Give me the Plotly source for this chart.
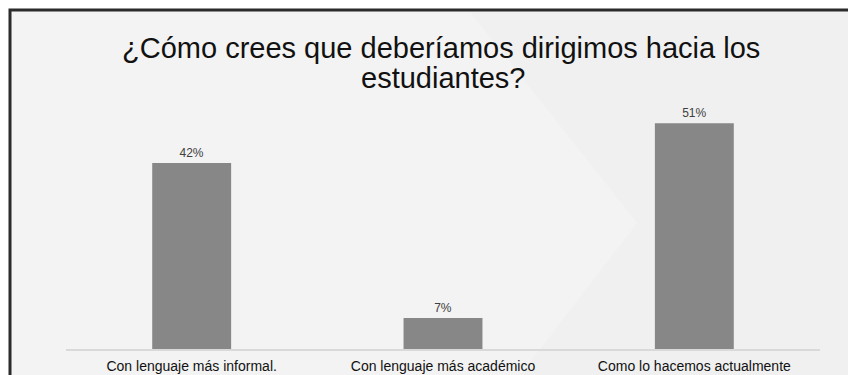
import plotly.graph_objects as go

categories = ["Con lenguaje más informal.", "Con lenguaje más académico", "Como lo hacemos actualmente"]
values = [42, 7, 51]
value_labels = ["42%", "7%", "51%"]
title_line1 = "¿Cómo crees que deberíamos dirigimos hacia los"
title_line2 = "estudiantes?"

W, H = 848, 375
ML, MR, MT, MB = 66, 28, 101, 26
PW, PH = W - ML - MR, H - MT - MB


def px(x):
    return (x - ML) / PW


def py(y):
    return (H - MB - y) / PH


fig = go.Figure()
fig.add_trace(go.Bar(
    x=categories, y=values, text=value_labels, textposition="outside",
    marker=dict(color="#878787", line=dict(width=0)),
    textfont=dict(family="Liberation Sans, Arial", size=12, color="#404040"),
    cliponaxis=False, hoverinfo="skip",
))

shapes = [
    # slide frame
    dict(type="rect", xref="paper", yref="paper", layer="below",
         x0=px(10), x1=px(870), y0=py(10), y1=py(390),
         fillcolor="#f0f0f0", line=dict(color="#2b2b2b", width=3)),
    # faint chevron in the background
    dict(type="path", xref="paper", yref="paper", layer="below",
         path=f"M {px(12)} {py(12)} L {px(470)} {py(12)} L {px(637)} {py(223)} L {px(520)} {py(375)} L {px(12)} {py(375)} Z",
         fillcolor="#f3f3f3", line=dict(width=0)),
]

annotations = [
    dict(text=title_line1, xref="paper", yref="paper", x=px(441), y=py(48),
         xanchor="center", yanchor="middle", showarrow=False,
         font=dict(family="Liberation Sans, Arial", size=29, color="#111111")),
    dict(text=title_line2, xref="paper", yref="paper", x=px(443), y=py(78),
         xanchor="center", yanchor="middle", showarrow=False,
         font=dict(family="Liberation Sans, Arial", size=29, color="#111111")),
]

fig.update_layout(
    width=W, height=H,
    margin=dict(l=ML, r=MR, t=MT, b=MB, pad=0, autoexpand=False),
    paper_bgcolor="white", plot_bgcolor="rgba(0,0,0,0)",
    showlegend=False, bargap=0.686,
    shapes=shapes, annotations=annotations,
    font=dict(family="Liberation Sans, Arial"),
)
fig.update_xaxes(
    showline=True, linecolor="#d9d9d9", linewidth=1.5, showgrid=False,
    automargin=False,
    ticks="outside", ticklen=3, tickcolor="rgba(0,0,0,0)",
    tickfont=dict(family="Liberation Sans, Arial", size=14, color="#111111"),
)
fig.update_yaxes(range=[0, 56], visible=False, showgrid=False, zeroline=False,
                 automargin=False)

fig.write_html("out.html")
